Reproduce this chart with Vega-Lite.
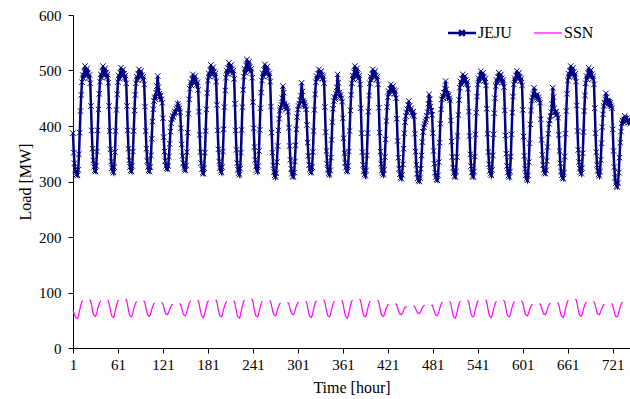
{
"$schema":"https://vega.github.io/schema/vega-lite/v6.json",
"width":557,"height":333,
"autosize":{"type":"none"},
"padding":{"left":73,"top":15,"right":0,"bottom":51},
"background":"white",
"config":{"view":{"stroke":null},"axis":{"domainColor":"#000","tickColor":"#000","labelColor":"#000","titleColor":"#000","grid":false,"labelFont":"Liberation Serif","titleFont":"Liberation Serif","labelFontSize":15,"titleFontSize":16,"titleFontWeight":"normal","tickSize":5,"domainWidth":1,"tickWidth":1,"labelFlush":false}},
"data":{"values":[
{"h":1,"j":387,"s":68},{"h":2,"j":352,"s":64},{"h":3,"j":333,"s":60},{"h":4,"j":322,"s":57},{"h":5,"j":316,"s":55},{"h":6,"j":313,"s":54},
{"h":7,"j":311,"s":53},{"h":8,"j":321,"s":56},{"h":9,"j":349,"s":63},{"h":10,"j":388,"s":69},{"h":11,"j":427,"s":75},{"h":12,"j":456,"s":80},{"h":13,"j":479,"s":84},{"h":14,"j":492,"s":85},{"h":15,"j":486},{"h":16,"j":498},{"h":17,"j":508},{"h":18,"j":500},{"h":19,"j":490},{"h":20,"j":504},{"h":21,"j":495},{"h":22,"j":487},{"h":23,"j":492,"s":87},{"h":24,"j":477,"s":86},{"h":25,"j":436,"s":82},{"h":26,"j":392,"s":76},{"h":27,"j":359,"s":68},{"h":28,"j":338,"s":62},{"h":29,"j":326,"s":59},{"h":30,"j":320,"s":58},
{"h":31,"j":318,"s":57},{"h":32,"j":328,"s":60},{"h":33,"j":354,"s":65},{"h":34,"j":392,"s":71},{"h":35,"j":430,"s":76},{"h":36,"j":458,"s":80},{"h":37,"j":480,"s":83},{"h":38,"j":493,"s":85},{"h":39,"j":487},{"h":40,"j":498},{"h":41,"j":508},{"h":42,"j":500},{"h":43,"j":490},{"h":44,"j":504},{"h":45,"j":495},{"h":46,"j":488},{"h":47,"j":493,"s":86},{"h":48,"j":478,"s":85},{"h":49,"j":436,"s":81},{"h":50,"j":391,"s":74},{"h":51,"j":358,"s":67},{"h":52,"j":336,"s":61},{"h":53,"j":324,"s":57},{"h":54,"j":319,"s":56},
{"h":55,"j":316,"s":55},{"h":56,"j":326,"s":58},{"h":57,"j":353,"s":64},{"h":58,"j":391,"s":71},{"h":59,"j":429,"s":77},{"h":60,"j":457,"s":81},{"h":61,"j":479,"s":85},{"h":62,"j":491,"s":86},{"h":63,"j":485},{"h":64,"j":496},{"h":65,"j":505},{"h":66,"j":498},{"h":67,"j":489},{"h":68,"j":502},{"h":69,"j":494},{"h":70,"j":487},{"h":71,"j":491,"s":88},{"h":72,"j":477,"s":87},{"h":73,"j":436,"s":83},{"h":74,"j":392,"s":76},{"h":75,"j":359,"s":68},{"h":76,"j":338,"s":62},{"h":77,"j":326,"s":58},{"h":78,"j":320,"s":57},
{"h":79,"j":318,"s":56},{"h":80,"j":328,"s":59},{"h":81,"j":354,"s":64},{"h":82,"j":391,"s":70},{"h":83,"j":428,"s":75},{"h":84,"j":456,"s":79},{"h":85,"j":477,"s":82},{"h":86,"j":489,"s":84},{"h":87,"j":483},{"h":88,"j":493},{"h":89,"j":502},{"h":90,"j":495},{"h":91,"j":487},{"h":92,"j":499},{"h":93,"j":491},{"h":94,"j":484},{"h":95,"j":489,"s":85},{"h":96,"j":475,"s":84},{"h":97,"j":435,"s":81},{"h":98,"j":391,"s":74},{"h":99,"j":359,"s":68},{"h":100,"j":337,"s":62},{"h":101,"j":326,"s":59},{"h":102,"j":320,"s":58},
{"h":103,"j":318,"s":57},{"h":104,"j":326,"s":60},{"h":105,"j":347,"s":64},{"h":106,"j":377,"s":69},{"h":107,"j":408,"s":74},{"h":108,"j":430,"s":77},{"h":109,"j":445,"s":80},{"h":110,"j":452,"s":81},{"h":111,"j":448},{"h":112,"j":460},{"h":113,"j":472},{"h":114,"j":490},{"h":115,"j":470},{"h":116,"j":458},{"h":117,"j":452},{"h":118,"j":455},{"h":119,"j":448,"s":82},{"h":120,"j":442,"s":81},{"h":121,"j":414,"s":79},{"h":122,"j":380,"s":74},{"h":123,"j":354,"s":68},{"h":124,"j":337,"s":64},{"h":125,"j":328,"s":61},{"h":126,"j":324,"s":61},
{"h":127,"j":322,"s":60},{"h":128,"j":328,"s":62},{"h":129,"j":345,"s":66},{"h":130,"j":368,"s":70},{"h":131,"j":390,"s":73},{"h":132,"j":405,"s":76},{"h":133,"j":413,"s":78},{"h":134,"j":418,"s":79},{"h":135,"j":416},{"h":136,"j":422},{"h":137,"j":426},{"h":138,"j":424},{"h":139,"j":430},{"h":140,"j":434},{"h":141,"j":440},{"h":142,"j":436},{"h":143,"j":432,"s":80},{"h":144,"j":425,"s":79},{"h":145,"j":396,"s":77},{"h":146,"j":367,"s":72},{"h":147,"j":346,"s":66},{"h":148,"j":333,"s":62},{"h":149,"j":325,"s":59},{"h":150,"j":322,"s":59},
{"h":151,"j":320,"s":58},{"h":152,"j":329,"s":61},{"h":153,"j":353,"s":66},{"h":154,"j":388,"s":71},{"h":155,"j":422,"s":76},{"h":156,"j":448,"s":80},{"h":157,"j":467,"s":83},{"h":158,"j":479,"s":85},{"h":159,"j":473},{"h":160,"j":484},{"h":161,"j":493},{"h":162,"j":486},{"h":163,"j":477},{"h":164,"j":490},{"h":165,"j":482},{"h":166,"j":475},{"h":167,"j":479,"s":86},{"h":168,"j":465,"s":85},{"h":169,"j":426,"s":81},{"h":170,"j":384,"s":74},{"h":171,"j":353,"s":67},{"h":172,"j":333,"s":61},{"h":173,"j":322,"s":57},{"h":174,"j":316,"s":56},
{"h":175,"j":314,"s":55},{"h":176,"j":324,"s":58},{"h":177,"j":352,"s":64},{"h":178,"j":391,"s":70},{"h":179,"j":430,"s":76},{"h":180,"j":459,"s":81},{"h":181,"j":482,"s":84},{"h":182,"j":495,"s":85},{"h":183,"j":489},{"h":184,"j":500},{"h":185,"j":510},{"h":186,"j":502},{"h":187,"j":492},{"h":188,"j":506},{"h":189,"j":497},{"h":190,"j":490},{"h":191,"j":495,"s":87},{"h":192,"j":480,"s":86},{"h":193,"j":438,"s":82},{"h":194,"j":392,"s":75},{"h":195,"j":358,"s":68},{"h":196,"j":336,"s":62},{"h":197,"j":324,"s":58},{"h":198,"j":319,"s":57},
{"h":199,"j":316,"s":56},{"h":200,"j":326,"s":59},{"h":201,"j":354,"s":64},{"h":202,"j":394,"s":70},{"h":203,"j":434,"s":75},{"h":204,"j":464,"s":79},{"h":205,"j":487,"s":82},{"h":206,"j":500,"s":84},{"h":207,"j":494},{"h":208,"j":504},{"h":209,"j":514},{"h":210,"j":507},{"h":211,"j":497},{"h":212,"j":510},{"h":213,"j":502},{"h":214,"j":495},{"h":215,"j":500,"s":85},{"h":216,"j":485,"s":84},{"h":217,"j":440,"s":80},{"h":218,"j":392,"s":73},{"h":219,"j":357,"s":66},{"h":220,"j":333,"s":60},{"h":221,"j":321,"s":56},{"h":222,"j":315,"s":55},
{"h":223,"j":312,"s":54},{"h":224,"j":323,"s":57},{"h":225,"j":352,"s":64},{"h":226,"j":393,"s":70},{"h":227,"j":434,"s":76},{"h":228,"j":465,"s":81},{"h":229,"j":489,"s":85},{"h":230,"j":503,"s":86},{"h":231,"j":496},{"h":232,"j":509},{"h":233,"j":520},{"h":234,"j":512},{"h":235,"j":500},{"h":236,"j":516},{"h":237,"j":506},{"h":238,"j":498},{"h":239,"j":503,"s":88},{"h":240,"j":487,"s":87},{"h":241,"j":443,"s":83},{"h":242,"j":396,"s":76},{"h":243,"j":362,"s":68},{"h":244,"j":339,"s":62},{"h":245,"j":327,"s":58},{"h":246,"j":321,"s":57},
{"h":247,"j":318,"s":56},{"h":248,"j":328,"s":59},{"h":249,"j":355,"s":64},{"h":250,"j":393,"s":70},{"h":251,"j":432,"s":76},{"h":252,"j":460,"s":80},{"h":253,"j":482,"s":83},{"h":254,"j":495,"s":84},{"h":255,"j":489},{"h":256,"j":501},{"h":257,"j":511},{"h":258,"j":503},{"h":259,"j":493},{"h":260,"j":507},{"h":261,"j":498},{"h":262,"j":490},{"h":263,"j":495,"s":86},{"h":264,"j":480,"s":85},{"h":265,"j":435,"s":82},{"h":266,"j":388,"s":75},{"h":267,"j":352,"s":69},{"h":268,"j":329,"s":63},{"h":269,"j":317,"s":60},{"h":270,"j":311,"s":59},
{"h":271,"j":308,"s":58},{"h":272,"j":315,"s":60},{"h":273,"j":335,"s":65},{"h":274,"j":364,"s":70},{"h":275,"j":392,"s":74},{"h":276,"j":413,"s":77},{"h":277,"j":428,"s":80},{"h":278,"j":433,"s":81},{"h":279,"j":438},{"h":280,"j":450},{"h":281,"j":472},{"h":282,"j":460},{"h":283,"j":440},{"h":284,"j":435},{"h":285,"j":430},{"h":286,"j":436},{"h":287,"j":432,"s":82},{"h":288,"j":426,"s":81},{"h":289,"j":397,"s":79},{"h":290,"j":364,"s":74},{"h":291,"j":339,"s":68},{"h":292,"j":323,"s":64},{"h":293,"j":314,"s":61},{"h":294,"j":310,"s":61},
{"h":295,"j":308,"s":60},{"h":296,"j":316,"s":62},{"h":297,"j":336,"s":67},{"h":298,"j":365,"s":72},{"h":299,"j":394,"s":76},{"h":300,"j":416,"s":79},{"h":301,"j":430,"s":82},{"h":302,"j":436,"s":83},{"h":303,"j":440},{"h":304,"j":446},{"h":305,"j":455},{"h":306,"j":478},{"h":307,"j":462},{"h":308,"j":445},{"h":309,"j":438},{"h":310,"j":442},{"h":311,"j":436,"s":84},{"h":312,"j":430,"s":83},{"h":313,"j":402,"s":80},{"h":314,"j":370,"s":73},{"h":315,"j":346,"s":66},{"h":316,"j":330,"s":60},{"h":317,"j":322,"s":57},{"h":318,"j":318,"s":56},
{"h":319,"j":316,"s":55},{"h":320,"j":326,"s":58},{"h":321,"j":353,"s":64},{"h":322,"j":391,"s":70},{"h":323,"j":429,"s":76},{"h":324,"j":457,"s":81},{"h":325,"j":479,"s":84},{"h":326,"j":490,"s":85},{"h":327,"j":485},{"h":328,"j":494},{"h":329,"j":502},{"h":330,"j":496},{"h":331,"j":488},{"h":332,"j":499},{"h":333,"j":492},{"h":334,"j":486},{"h":335,"j":490,"s":87},{"h":336,"j":477,"s":86},{"h":337,"j":434,"s":82},{"h":338,"j":389,"s":75},{"h":339,"j":355,"s":68},{"h":340,"j":332,"s":62},{"h":341,"j":321,"s":58},{"h":342,"j":315,"s":57},
{"h":343,"j":312,"s":56},{"h":344,"j":320,"s":59},{"h":345,"j":343,"s":64},{"h":346,"j":375,"s":70},{"h":347,"j":407,"s":76},{"h":348,"j":431,"s":80},{"h":349,"j":445,"s":83},{"h":350,"j":452,"s":84},{"h":351,"j":448},{"h":352,"j":458},{"h":353,"j":470},{"h":354,"j":493},{"h":355,"j":478},{"h":356,"j":460},{"h":357,"j":452},{"h":358,"j":456},{"h":359,"j":450,"s":86},{"h":360,"j":444,"s":85},{"h":361,"j":414,"s":81},{"h":362,"j":378,"s":74},{"h":363,"j":351,"s":66},{"h":364,"j":334,"s":60},{"h":365,"j":325,"s":56},{"h":366,"j":320,"s":55},
{"h":367,"j":318,"s":54},{"h":368,"j":328,"s":57},{"h":369,"j":354,"s":64},{"h":370,"j":391,"s":70},{"h":371,"j":428,"s":76},{"h":372,"j":456,"s":81},{"h":373,"j":477,"s":85},{"h":374,"j":491,"s":86},{"h":375,"j":484},{"h":376,"j":497},{"h":377,"j":508},{"h":378,"j":500},{"h":379,"j":488},{"h":380,"j":504},{"h":381,"j":494},{"h":382,"j":486},{"h":383,"j":491,"s":88},{"h":384,"j":475,"s":87},{"h":385,"j":432,"s":83},{"h":386,"j":387,"s":76},{"h":387,"j":353,"s":68},{"h":388,"j":330,"s":62},{"h":389,"j":319,"s":58},{"h":390,"j":313,"s":57},
{"h":391,"j":310,"s":56},{"h":392,"j":320,"s":59},{"h":393,"j":347,"s":64},{"h":394,"j":387,"s":70},{"h":395,"j":426,"s":76},{"h":396,"j":455,"s":80},{"h":397,"j":477,"s":83},{"h":398,"j":489,"s":84},{"h":399,"j":483},{"h":400,"j":493},{"h":401,"j":502},{"h":402,"j":495},{"h":403,"j":487},{"h":404,"j":499},{"h":405,"j":491},{"h":406,"j":484},{"h":407,"j":489,"s":86},{"h":408,"j":475,"s":85},{"h":409,"j":433,"s":82},{"h":410,"j":388,"s":75},{"h":411,"j":354,"s":68},{"h":412,"j":332,"s":62},{"h":413,"j":320,"s":59},{"h":414,"j":315,"s":58},
{"h":415,"j":312,"s":57},{"h":416,"j":321,"s":59},{"h":417,"j":344,"s":63},{"h":418,"j":376,"s":68},{"h":419,"j":409,"s":72},{"h":420,"j":434,"s":75},{"h":421,"j":452,"s":78},{"h":422,"j":463,"s":79},{"h":423,"j":458},{"h":424,"j":467},{"h":425,"j":475},{"h":426,"j":469},{"h":427,"j":461},{"h":428,"j":472},{"h":429,"j":465},{"h":430,"j":459},{"h":431,"j":463,"s":80},{"h":432,"j":450,"s":79},{"h":433,"j":413,"s":77},{"h":434,"j":373,"s":72},{"h":435,"j":343,"s":68},{"h":436,"j":323,"s":64},{"h":437,"j":313,"s":61},{"h":438,"j":307,"s":61},
{"h":439,"j":305,"s":60},{"h":440,"j":312,"s":62},{"h":441,"j":331,"s":64},{"h":442,"j":359,"s":68},{"h":443,"j":387,"s":71},{"h":444,"j":407,"s":73},{"h":445,"j":418,"s":74},{"h":446,"j":425,"s":75},{"h":447,"j":430},{"h":448,"j":438},{"h":449,"j":445},{"h":450,"j":436},{"h":451,"j":428},{"h":452,"j":432},{"h":453,"j":424},{"h":454,"j":420},{"h":455,"j":426,"s":76},{"h":456,"j":418,"s":75},{"h":457,"j":386,"s":74},{"h":458,"j":354,"s":71},{"h":459,"j":330,"s":67},{"h":460,"j":314,"s":65},{"h":461,"j":306,"s":63},{"h":462,"j":302,"s":63},
{"h":463,"j":300,"s":62},{"h":464,"j":306,"s":64},{"h":465,"j":323,"s":66},{"h":466,"j":347,"s":70},{"h":467,"j":371,"s":73},{"h":468,"j":389,"s":75},{"h":469,"j":398,"s":76},{"h":470,"j":403,"s":77},{"h":471,"j":408},{"h":472,"j":412},{"h":473,"j":418},{"h":474,"j":425},{"h":475,"j":440},{"h":476,"j":457},{"h":477,"j":448},{"h":478,"j":435},{"h":479,"j":428,"s":78},{"h":480,"j":420,"s":77},{"h":481,"j":387,"s":75},{"h":482,"j":355,"s":70},{"h":483,"j":332,"s":66},{"h":484,"j":316,"s":62},{"h":485,"j":308,"s":59},{"h":486,"j":304,"s":59},
{"h":487,"j":302,"s":58},{"h":488,"j":311,"s":61},{"h":489,"j":335,"s":65},{"h":490,"j":370,"s":70},{"h":491,"j":404,"s":75},{"h":492,"j":430,"s":79},{"h":493,"j":448,"s":81},{"h":494,"j":455,"s":83},{"h":495,"j":450},{"h":496,"j":460},{"h":497,"j":468},{"h":498,"j":481},{"h":499,"j":466},{"h":500,"j":458},{"h":501,"j":452},{"h":502,"j":456},{"h":503,"j":450,"s":84},{"h":504,"j":446,"s":83},{"h":505,"j":410,"s":80},{"h":506,"j":372,"s":73},{"h":507,"j":344,"s":65},{"h":508,"j":325,"s":59},{"h":509,"j":315,"s":56},{"h":510,"j":310,"s":55},
{"h":511,"j":308,"s":54},{"h":512,"j":318,"s":57},{"h":513,"j":344,"s":63},{"h":514,"j":382,"s":69},{"h":515,"j":420,"s":75},{"h":516,"j":447,"s":80},{"h":517,"j":469,"s":83},{"h":518,"j":480,"s":84},{"h":519,"j":475},{"h":520,"j":485},{"h":521,"j":493},{"h":522,"j":487},{"h":523,"j":478},{"h":524,"j":490},{"h":525,"j":483},{"h":526,"j":476},{"h":527,"j":480,"s":86},{"h":528,"j":467,"s":85},{"h":529,"j":426,"s":82},{"h":530,"j":382,"s":75},{"h":531,"j":349,"s":67},{"h":532,"j":328,"s":61},{"h":533,"j":316,"s":58},{"h":534,"j":310,"s":57},
{"h":535,"j":308,"s":56},{"h":536,"j":318,"s":59},{"h":537,"j":345,"s":65},{"h":538,"j":385,"s":71},{"h":539,"j":424,"s":76},{"h":540,"j":453,"s":81},{"h":541,"j":475,"s":84},{"h":542,"j":486,"s":85},{"h":543,"j":481},{"h":544,"j":491},{"h":545,"j":499},{"h":546,"j":493},{"h":547,"j":484},{"h":548,"j":496},{"h":549,"j":489},{"h":550,"j":482},{"h":551,"j":486,"s":87},{"h":552,"j":473,"s":86},{"h":553,"j":431,"s":82},{"h":554,"j":386,"s":75},{"h":555,"j":353,"s":67},{"h":556,"j":331,"s":61},{"h":557,"j":319,"s":57},{"h":558,"j":314,"s":56},
{"h":559,"j":311,"s":55},{"h":560,"j":321,"s":58},{"h":561,"j":347,"s":64},{"h":562,"j":385,"s":70},{"h":563,"j":423,"s":75},{"h":564,"j":450,"s":80},{"h":565,"j":472,"s":83},{"h":566,"j":483,"s":84},{"h":567,"j":478},{"h":568,"j":488},{"h":569,"j":496},{"h":570,"j":490},{"h":571,"j":481},{"h":572,"j":493},{"h":573,"j":486},{"h":574,"j":479},{"h":575,"j":483,"s":86},{"h":576,"j":470,"s":85},{"h":577,"j":428,"s":82},{"h":578,"j":383,"s":75},{"h":579,"j":350,"s":67},{"h":580,"j":328,"s":61},{"h":581,"j":316,"s":58},{"h":582,"j":311,"s":57},
{"h":583,"j":308,"s":56},{"h":584,"j":318,"s":59},{"h":585,"j":345,"s":64},{"h":586,"j":385,"s":70},{"h":587,"j":424,"s":75},{"h":588,"j":453,"s":79},{"h":589,"j":475,"s":82},{"h":590,"j":486,"s":84},{"h":591,"j":481},{"h":592,"j":491},{"h":593,"j":499},{"h":594,"j":493},{"h":595,"j":484},{"h":596,"j":496},{"h":597,"j":489},{"h":598,"j":482},{"h":599,"j":486,"s":85},{"h":600,"j":473,"s":84},{"h":601,"j":429,"s":81},{"h":602,"j":381,"s":75},{"h":603,"j":346,"s":68},{"h":604,"j":323,"s":63},{"h":605,"j":311,"s":60},{"h":606,"j":305,"s":59},
{"h":607,"j":302,"s":58},{"h":608,"j":311,"s":60},{"h":609,"j":335,"s":64},{"h":610,"j":369,"s":69},{"h":611,"j":403,"s":73},{"h":612,"j":428,"s":76},{"h":613,"j":446,"s":78},{"h":614,"j":452,"s":79},{"h":615,"j":458},{"h":616,"j":469},{"h":617,"j":462},{"h":618,"j":455},{"h":619,"j":450},{"h":620,"j":456},{"h":621,"j":448},{"h":622,"j":452},{"h":623,"j":447,"s":80},{"h":624,"j":442,"s":79},{"h":625,"j":412,"s":77},{"h":626,"j":375,"s":72},{"h":627,"j":348,"s":68},{"h":628,"j":330,"s":64},{"h":629,"j":321,"s":61},{"h":630,"j":316,"s":61},
{"h":631,"j":314,"s":60},{"h":632,"j":320,"s":62},{"h":633,"j":337,"s":66},{"h":634,"j":362,"s":71},{"h":635,"j":386,"s":75},{"h":636,"j":404,"s":78},{"h":637,"j":410,"s":80},{"h":638,"j":418,"s":81},{"h":639,"j":425},{"h":640,"j":440},{"h":641,"j":469},{"h":642,"j":452},{"h":643,"j":432},{"h":644,"j":425},{"h":645,"j":420},{"h":646,"j":426},{"h":647,"j":420,"s":82},{"h":648,"j":415,"s":81},{"h":649,"j":384,"s":78},{"h":650,"j":355,"s":72},{"h":651,"j":333,"s":65},{"h":652,"j":318,"s":60},{"h":653,"j":311,"s":57},{"h":654,"j":307,"s":56},
{"h":655,"j":305,"s":55},{"h":656,"j":316,"s":58},{"h":657,"j":345,"s":64},{"h":658,"j":386,"s":71},{"h":659,"j":427,"s":77},{"h":660,"j":458,"s":81},{"h":661,"j":482,"s":85},{"h":662,"j":494,"s":86},{"h":663,"j":488},{"h":664,"j":499},{"h":665,"j":508},{"h":666,"j":501},{"h":667,"j":492},{"h":668,"j":505},{"h":669,"j":497},{"h":670,"j":490},{"h":671,"j":494,"s":88},{"h":672,"j":480,"s":87},{"h":673,"j":437,"s":83},{"h":674,"j":391,"s":76},{"h":675,"j":357,"s":69},{"h":676,"j":335,"s":63},{"h":677,"j":323,"s":59},{"h":678,"j":317,"s":58},
{"h":679,"j":314,"s":57},{"h":680,"j":324,"s":60},{"h":681,"j":351,"s":65},{"h":682,"j":389,"s":70},{"h":683,"j":427,"s":75},{"h":684,"j":455,"s":79},{"h":685,"j":477,"s":81},{"h":686,"j":490,"s":83},{"h":687,"j":484},{"h":688,"j":495},{"h":689,"j":505},{"h":690,"j":498},{"h":691,"j":488},{"h":692,"j":501},{"h":693,"j":493},{"h":694,"j":485},{"h":695,"j":490,"s":84},{"h":696,"j":475,"s":83},{"h":697,"j":432,"s":80},{"h":698,"j":387,"s":75},{"h":699,"j":353,"s":69},{"h":700,"j":330,"s":64},{"h":701,"j":319,"s":61},{"h":702,"j":313,"s":61},
{"h":703,"j":310,"s":60},{"h":704,"j":318,"s":62},{"h":705,"j":339,"s":66},{"h":706,"j":369,"s":70},{"h":707,"j":398,"s":73},{"h":708,"j":421,"s":76},{"h":709,"j":436,"s":78},{"h":710,"j":442,"s":79},{"h":711,"j":448},{"h":712,"j":459},{"h":713,"j":452},{"h":714,"j":445},{"h":715,"j":440},{"h":716,"j":444},{"h":717,"j":438},{"h":718,"j":442},{"h":719,"j":436,"s":80},{"h":720,"j":432,"s":79},{"h":721,"j":394,"s":76},{"h":722,"j":355,"s":71},{"h":723,"j":326,"s":65},{"h":724,"j":307,"s":60},{"h":725,"j":297,"s":57},{"h":726,"j":292,"s":57},
{"h":727,"j":290,"s":56},{"h":728,"j":297,"s":59},{"h":729,"j":316,"s":64},{"h":730,"j":343,"s":69},{"h":731,"j":370,"s":75},{"h":732,"j":390,"s":78},{"h":733,"j":405,"s":81},{"h":734,"j":410,"s":83},{"h":735,"j":407},{"h":736,"j":412},{"h":737,"j":418},{"h":738,"j":413},{"h":739,"j":408},{"h":740,"j":414},{"h":741,"j":410},{"h":742,"j":406},{"h":743,"j":409},{"h":744,"j":404}
]},
"layer":[
{"mark":{"type":"line","strokeWidth":2.5},
 "encoding":{
  "x":{"field":"h","type":"quantitative","title":"Time [hour]","scale":{"domain":[1,744],"nice":false,"zero":false},"axis":{"values":[1,61,121,181,241,301,361,421,481,541,601,661,721],"labelPadding":4,"titlePadding":7}},
  "y":{"field":"j","type":"quantitative","title":"Load [MW]","scale":{"domain":[0,600],"nice":false},"axis":{"values":[0,100,200,300,400,500,600],"labelPadding":7,"titlePadding":5}},
  "color":{"datum":"JEJU","type":"nominal","scale":{"domain":["JEJU","SSN"],"range":["#000080","#FF00FF"]},
   "legend":{"orient":"none","legendX":381,"legendY":10,"direction":"horizontal","title":null,"padding":0,"symbolType":"stroke","symbolSize":784,"symbolStrokeWidth":2.5,"labelFont":"Liberation Serif","labelFontSize":16,"labelColor":"#000","labelOffset":8,"columnPadding":19,
    "encode":{"symbols":{"update":{"shape":{"signal":"datum.value === 'JEJU' ? 'M-1,0H1M-0.2,-0.2L0.2,0.2M-0.2,0.2L0.2,-0.2' : 'M-1,0H1'"},"strokeWidth":{"signal":"datum.value === 'JEJU' ? 2.5 : 1.2"},"stroke":{"signal":"datum.value === 'JEJU' ? '#000080' : '#FF00FF'"},"fill":{"value":"transparent"}}}}}}
 }},
{"mark":{"type":"point","shape":"M-1,-1L1,1M-1,1L1,-1","size":30,"filled":false,"strokeWidth":1,"color":"#000080","opacity":1},
 "encoding":{"x":{"field":"h","type":"quantitative","title":"Time [hour]"},"y":{"field":"j","type":"quantitative","title":"Load [MW]"}}},
{"mark":{"type":"line","strokeWidth":1.2,"invalid":"break-paths-filter-domains"},
 "encoding":{"x":{"field":"h","type":"quantitative","title":"Time [hour]"},"y":{"field":"s","type":"quantitative","title":"Load [MW]"},"color":{"datum":"SSN","type":"nominal"}}}
]
}
